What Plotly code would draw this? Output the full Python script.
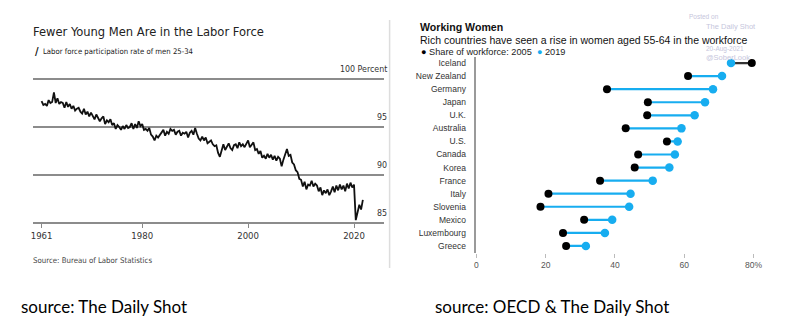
import plotly.graph_objects as go

# ---------------- Left chart data: LFPR men 25-34 (3 readings per year) ----------------
start_year = 1961
lfpr = [
    97.7, 97.3, 97.4,  97.2, 97.8, 97.5,  97.6, 98.6, 97.5,  98.0, 97.4, 97.6,
    97.5, 97.0, 97.6,  97.1, 97.4, 96.9,  97.2, 96.7, 96.9,  97.0, 96.6, 96.4,
    96.9, 96.3, 96.6,  96.1, 96.5, 96.2,  95.8, 96.3, 96.0,  95.6, 95.9, 96.1,
    95.3, 95.7, 95.5,  95.8, 95.2, 95.4,  94.8, 95.2, 95.0,  94.7, 95.1, 94.8,
    95.2, 94.9, 95.0,  95.4, 94.8, 95.3,  94.9, 95.6, 95.1,  95.3, 94.7, 94.8,
    94.6, 94.9, 94.2,  94.0, 93.6, 94.1,  93.9, 94.2, 94.4,  94.7, 94.1, 94.5,
    94.3, 94.8, 94.6,  94.7, 94.2, 94.5,  94.6, 94.1, 94.4,  94.3, 94.5, 93.9,
    94.4, 94.6, 94.2,  94.9, 94.3, 93.8,  93.6, 94.0, 93.6,  93.9, 93.3, 93.5,
    93.6, 93.2, 93.0,  93.1, 92.3, 91.9,  92.7, 93.2, 92.6,  93.0, 93.3, 92.8,
    92.6, 93.1, 93.2,  92.8, 93.4, 93.0,  93.2, 92.9, 93.3,  93.6, 92.9, 93.2,
    93.4, 92.6, 92.7,  92.2, 92.5, 91.8,  92.0, 91.7, 92.2,  91.8, 92.1, 91.6,
    92.0, 91.5, 91.9,  91.7, 90.9, 91.6,  92.3, 92.7, 92.0,  92.1, 91.3, 91.1,
    90.5, 90.3, 89.6,  89.5, 88.8, 89.3,  88.5, 89.0, 88.9,  89.4, 88.8, 89.1,
    88.9, 88.3, 88.7,  87.9, 88.4, 88.1,  88.5, 87.9, 88.3,  88.8, 88.2, 88.9,
    88.4, 89.0, 88.5,  88.9, 88.3, 89.1,  88.6, 89.2, 88.7,  89.0, 85.3, 86.2,
    86.9, 86.4, 87.4,
]
lfpr_x = [start_year + i / 3 for i in range(len(lfpr))]
left_xticks = [1961, 1980, 2000, 2020]
left_yticks = [85, 90, 95, 100]
left_yticktext = ["85", "90", "95", "100 Percent"]

# ---------------- Right chart data: women 55-64 share of workforce ----------------
countries = ["Iceland", "New Zealand", "Germany", "Japan", "U.K.", "Australia", "U.S.",
             "Canada", "Korea", "France", "Italy", "Slovenia", "Mexico", "Luxembourg", "Greece"]
share_2005 = [79.5, 61.1, 37.7, 49.5, 49.3, 43.1, 55.0, 46.7, 45.7, 35.7, 20.8, 18.5, 31.1, 25.0, 25.9]
share_2019 = [73.5, 70.9, 68.3, 66.0, 63.0, 59.2, 58.1, 57.3, 55.7, 50.9, 44.5, 44.1, 39.2, 37.1, 31.6]
right_xticks = [0, 20, 40, 60, 80]
right_xticktext = ["0", "20", "40", "60", "80%"]

BLUE = "#17adf0"
NARROW = "Liberation Sans Narrow, DejaVu Sans Condensed, Arial Narrow, sans-serif"
SANS = "Liberation Sans, Arial, Helvetica, sans-serif"

W, H = 800, 332
def px(x):
    return x / W
def py(y):
    return 1 - y / H

fig = go.Figure()

# left line
fig.add_trace(go.Scatter(x=lfpr_x, y=lfpr, mode="lines", line=dict(color="#111111", width=1.8),
                         xaxis="x", yaxis="y", showlegend=False, hoverinfo="skip"))

# right connectors
up_x, up_y, dn_x, dn_y = [], [], [], []
for c, a, b in zip(countries, share_2005, share_2019):
    if b >= a:
        up_x += [a, b, None]; up_y += [c, c, None]
    else:
        dn_x += [a, b, None]; dn_y += [c, c, None]
fig.add_trace(go.Scatter(x=up_x, y=up_y, mode="lines", line=dict(color=BLUE, width=2.2),
                         xaxis="x2", yaxis="y2", showlegend=False, hoverinfo="skip"))
fig.add_trace(go.Scatter(x=dn_x, y=dn_y, mode="lines", line=dict(color="#333333", width=2.2),
                         xaxis="x2", yaxis="y2", showlegend=False, hoverinfo="skip"))
fig.add_trace(go.Scatter(x=share_2019, y=countries, mode="markers",
                         marker=dict(color=BLUE, size=8.5), cliponaxis=False,
                         xaxis="x2", yaxis="y2", showlegend=False))
fig.add_trace(go.Scatter(x=share_2005, y=countries, mode="markers",
                         marker=dict(color="#000000", size=8), cliponaxis=False,
                         xaxis="x2", yaxis="y2", showlegend=False))

def note(text, x, y, size, color, family, anchor="left"):
    return dict(text=text, x=px(x), y=py(y), xref="paper", yref="paper", xanchor=anchor,
                yanchor="middle", showarrow=False, font=dict(family=family, size=size, color=color))

annotations = [
    note("Fewer Young Men Are in the Labor Force", 29, 31, 12.8, "#222222", NARROW),
    note("<b>/</b>", 31, 51, 11, "#111111", NARROW),
    note("Labor force participation rate of men 25-34", 40, 52, 7.7, "#222222", NARROW),
    note("Source: Bureau of Labor Statistics", 29, 260, 7.8, "#444444", NARROW),
    note("<b>Working Women</b>", 422, 27, 10.6, "#111111", SANS),
    note("Rich countries have seen a rise in women aged 55-64 in the workforce", 422, 39.5, 10.5, "#111111", SANS),
    note("<span style='color:#000000'>●</span> Share of workforce: 2005 &nbsp;<span style='color:%s'>●</span> 2019" % BLUE,
         423, 51.5, 9.2, "#222222", SANS),
    note("Posted on", 695, 16, 6.5, "#c6c6dc", SANS),
    note("The Daily Shot", 712, 26.5, 7.5, "#c6c6dc", SANS),
    note("20-Aug-2021", 712, 48.5, 6.5, "#c6c6dc", SANS),
    note("@SoberLook", 712, 58, 7.5, "#c6c6dc", SANS),
    note("source: The Daily Shot", 17, 306, 17, "#000000", "Lato, sans-serif"),
    note("source: OECD & The Daily Shot", 437, 306, 17, "#000000", "Lato, sans-serif"),
]
# left value labels sit just above their gridlines, read through the y scale
for v, t in zip(left_yticks, left_yticktext):
    annotations.append(dict(text=t, x=1, xref="x domain", y=v, yref="y", xanchor="right",
                            yanchor="bottom", yshift=3, xshift=5, showarrow=False,
                            font=dict(family=NARROW, size=8.8, color="#333333")))

# left y scale: 85 -> pixel 223, 100 -> pixel 79 (9.6 px per point); range padded so 85/100 lie inside
y_lo, y_hi = 84.0, 101.5
dom_bottom = 223 + (85 - y_lo) * 9.6
dom_top = 79 - (y_hi - 100) * 9.6

fig.update_layout(
    width=W, height=H, autosize=False,
    margin=dict(l=0, r=0, t=0, b=0),
    paper_bgcolor="white", plot_bgcolor="white",
    showlegend=False,
    xaxis=dict(domain=[px(31), px(387)], range=[1959.3, 2025.6], tickvals=left_xticks,
               anchor="free", position=py(223),
               ticks="outside", ticklen=4, tickcolor="#888888", showgrid=False, zeroline=False,
               showline=False, tickfont=dict(family=NARROW, size=9.5, color="#333333")),
    yaxis=dict(domain=[py(dom_bottom), py(dom_top)], range=[y_lo, y_hi], tickvals=left_yticks,
               showticklabels=False, side="right",
               showgrid=True, gridcolor="#8c8c8c", gridwidth=1.5, zeroline=False, showline=False,
               ticks=""),
    xaxis2=dict(domain=[px(481), px(762)], range=[0, 80], tickvals=right_xticks, ticktext=right_xticktext,
                ticks="outside", ticklen=4, tickcolor="#bbbbbb", showgrid=False, zeroline=False,
                showline=False, anchor="y2", tickfont=dict(family=SANS, size=8.5, color="#555555")),
    yaxis2=dict(domain=[py(252.5), py(56.5)], type="category", categoryorder="array",
                categoryarray=countries, range=[14.5, -0.5], showgrid=False, zeroline=False,
                showline=True, linecolor="#9a9a9a", linewidth=1.5, ticks="", anchor="x2",
                ticklabelstandoff=7, tickfont=dict(family=SANS, size=8.5, color="#333333")),
    annotations=annotations,
    shapes=[dict(type="line", xref="paper", yref="paper", x0=px(393), x1=px(393), y0=py(20), y1=py(268),
                 line=dict(color="#dddddd", width=1.5))],
)

fig.write_html("out.html")
